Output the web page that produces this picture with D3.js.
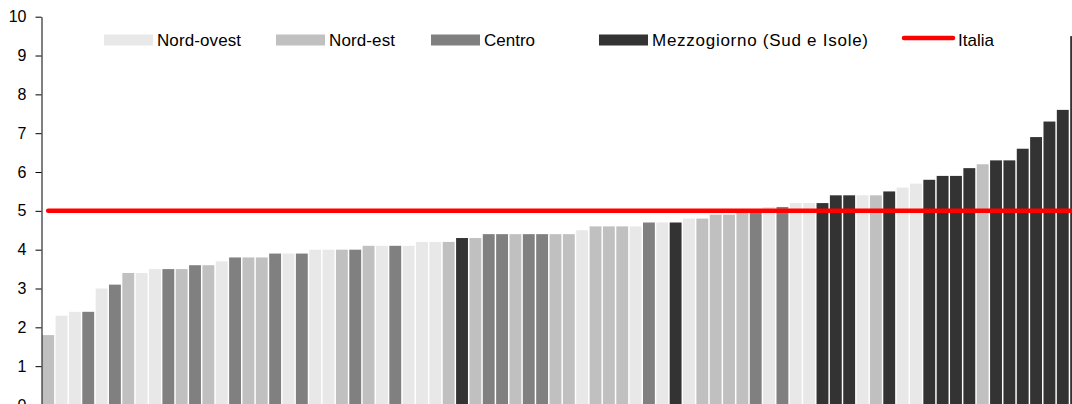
<!DOCTYPE html>
<html lang="it">
<meta charset="utf-8">
<head>
    <script src="https://d3js.org/d3.v7.min.js"></script>
    <style>
        body { margin: 0; background: #fff; }
        svg { display: block; font-family: "Liberation Sans", Arial, sans-serif; }
    </style>
</head>
<body>
<svg id="chart"></svg>

<script>
// regions: NO = Nord-ovest, NE = Nord-est, C = Centro, M = Mezzogiorno
var regions = ["NO", "NE", "C", "M"];
var regionLabels = ["Nord-ovest", "Nord-est", "Centro", "Mezzogiorno (Sud e Isole)"];
var regionColors = ["#e8e8e8", "#c0c0c0", "#808080", "#333333"];

// bars in the order they appear (sorted by value)
var barRegion = [
  "NE","NO","NO","C","NO","C","NE","NO","NO","C",
  "NE","C","NE","NO","C","NE","NE","C","NO","C",
  "NO","NO","NE","C","NE","NO","C","NO","NO","NO",
  "NE","M","NE","C","C","NE","C","C","NE","NE",
  "NO","NE","NE","NE","NO","C","NO","M","NO","NE",
  "NE","NE","NE","C","NO","C","NO","NO","M","M",
  "M","NO","NE","M","NO","NO","M","M","M","M",
  "NE","M","M","M","M","M","M","M"
];
var barValue = [
  1.8,2.3,2.4,2.4,3.0,3.1,3.4,3.4,3.5,3.5,
  3.5,3.6,3.6,3.7,3.8,3.8,3.8,3.9,3.9,3.9,
  4.0,4.0,4.0,4.0,4.1,4.1,4.1,4.1,4.2,4.2,
  4.2,4.3,4.3,4.4,4.4,4.4,4.4,4.4,4.4,4.4,
  4.5,4.6,4.6,4.6,4.6,4.7,4.7,4.7,4.8,4.8,
  4.9,4.9,5.0,5.0,5.1,5.1,5.2,5.2,5.2,5.4,
  5.4,5.4,5.4,5.5,5.6,5.7,5.8,5.9,5.9,6.1,
  6.2,6.3,6.3,6.6,6.9,7.3,7.6,9.5
];
var italia = 5.0;
var yTicks = [0,1,2,3,4,5,6,7,8,9,10];

var width = 1072,
    height = 404;

var svg = d3.select("#chart")
    .attr("width", width)
    .attr("height", height);

var step = 13.35;
var x = d3.scaleBand()
    .domain(d3.range(barValue.length))
    .range([41.5, 41.5 + barValue.length * step])
    .paddingInner(0.11)
    .paddingOuter(0.055);

var y = d3.scaleLinear()
    .domain([0, 10])
    .range([405, 16.7]);

var color = d3.scaleOrdinal()
    .domain(regions)
    .range(regionColors);

// bars
svg.append("g")
  .selectAll("rect")
  .data(barValue)
  .enter()
  .append("rect")
    .attr("x", function(d, i) { return x(i); })
    .attr("y", function(d) { return y(d); })
    .attr("width", x.bandwidth())
    .attr("height", function(d) { return y(0) - y(d); })
    .attr("fill", function(d, i) { return color(barRegion[i]); });

// Italia line
var first = 0, last = barValue.length - 1;
svg.append("line")
    .attr("x1", x(first) + x.bandwidth() / 2)
    .attr("x2", x(last) + x.bandwidth() / 2)
    .attr("y1", y(italia))
    .attr("y2", y(italia))
    .attr("stroke", "#ff0000")
    .attr("stroke-width", 4.5)
    .attr("stroke-linecap", "round");

// y axis
var yAxis = svg.append("g")
    .attr("transform", "translate(41.5,0)")
    .call(d3.axisLeft(y).tickValues(yTicks).tickSize(6).tickSizeOuter(0).tickPadding(9));
yAxis.select(".domain").attr("stroke", "#000");
yAxis.selectAll(".tick line").attr("stroke", "#000");
yAxis.selectAll(".tick text")
    .attr("fill", "#000")
    .style("font-size", "16px")
    .style("font-family", "'Liberation Sans', Arial, sans-serif");

// legend
var legendX = [104, 276, 431, 599];
var legendTextLen = [84, 66, 51, 216];
var legend = svg.append("g");
regions.forEach(function(r, i) {
  legend.append("rect")
    .attr("x", legendX[i])
    .attr("y", 34.5)
    .attr("width", 49)
    .attr("height", 11)
    .attr("fill", regionColors[i]);
  legend.append("text")
    .attr("x", legendX[i] + 53)
    .attr("y", 46)
    .attr("textLength", legendTextLen[i])
    .attr("lengthAdjust", "spacing")
    .style("font-size", "17px")
    .attr("fill", "#000")
    .text(regionLabels[i]);
});
legend.append("line")
    .attr("x1", 904).attr("x2", 953)
    .attr("y1", 38).attr("y2", 38)
    .attr("stroke", "#ff0000")
    .attr("stroke-width", 4.5)
    .attr("stroke-linecap", "round");
legend.append("text")
    .attr("x", 958)
    .attr("y", 46)
    .style("font-size", "17px")
    .attr("fill", "#000")
    .text("Italia");
</script>
</body>
</html>
